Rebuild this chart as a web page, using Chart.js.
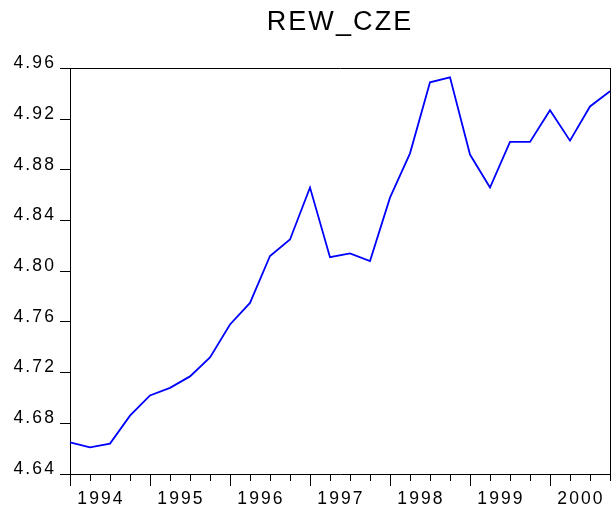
<!DOCTYPE html>
<html>
<head>
<meta charset="utf-8">
<script src="https://cdn.jsdelivr.net/npm/chart.js@4/dist/chart.umd.min.js"></script>
<style>
  body { margin: 0; background: #fff; }
  canvas { display: block; }
</style>
</head>
<body>
<canvas id="rew_chart" width="613" height="513"></canvas>
<script>
// quarterly observations, 1994Q1 .. 2000Q4
var quarters = [
  "1994Q1", "1994Q2", "1994Q3", "1994Q4",
  "1995Q1", "1995Q2", "1995Q3", "1995Q4",
  "1996Q1", "1996Q2", "1996Q3", "1996Q4",
  "1997Q1", "1997Q2", "1997Q3", "1997Q4",
  "1998Q1", "1998Q2", "1998Q3", "1998Q4",
  "1999Q1", "1999Q2", "1999Q3", "1999Q4",
  "2000Q1", "2000Q2", "2000Q3", "2000Q4"
];
var rewCze = [
  4.665, 4.661, 4.664, 4.686,
  4.702, 4.708, 4.717, 4.732,
  4.758, 4.775, 4.812, 4.825,
  4.866, 4.811, 4.814, 4.808,
  4.858, 4.893, 4.949, 4.953,
  4.892, 4.866, 4.902, 4.902,
  4.927, 4.903, 4.930, 4.942
];
var yTicks = [4.64, 4.68, 4.72, 4.76, 4.80, 4.84, 4.88, 4.92, 4.96];

var fontFamily = "Arial, 'Liberation Sans', sans-serif";

// EViews draws its text a bit spread out
var letterSpacing = {
  id: 'letterSpacing',
  beforeUpdate: function(chart) { chart.ctx.letterSpacing = '2.1px'; },
  beforeDraw: function(chart) { chart.ctx.letterSpacing = '2.1px'; }
};

var chart = new Chart("rew_chart", {
  type: 'line',
  data: {
    labels: quarters,
    datasets: [{
      label: "REW_CZE",
      data: rewCze,
      borderColor: "#0000ff",
      borderWidth: 1.8,
      pointRadius: 0,
      tension: 0,
      fill: false,
      xAxisID: 'x',
      yAxisID: 'y'
    }]
  },
  options: {
    responsive: false,
    animation: false,
    layout: { padding: { left: 0, right: 1, top: 0, bottom: 0 } },
    plugins: {
      legend: { display: false },
      tooltip: { enabled: false },
      title: {
        display: true,
        text: 'REW_CZE',
        fullSize: false,
        color: '#000',
        font: { family: fontFamily, size: 27, weight: 'normal', lineHeight: 1.2 },
        padding: { top: 6, bottom: 30 }
      }
    },
    scales: {
      x: {
        type: 'category',
        position: 'bottom',
        afterFit: function(scale) { scale.height = 39; },
        grid: {
          drawOnChartArea: false,
          tickLength: 12,
          tickColor: function(ctx) { return ctx.index % 4 === 0 ? '#000' : 'rgba(0,0,0,0)'; }
        },
        border: { color: '#000', width: 1 },
        ticks: {
          autoSkip: false,
          maxRotation: 0,
          padding: 3,
          labelOffset: 31,
          color: '#000',
          font: { family: fontFamily, size: 17.5 },
          callback: function(value, index) {
            return index % 4 === 0 ? this.getLabelForValue(value).slice(0, 4) : '';
          }
        }
      },
      xq: {
        type: 'category',
        position: { y: 4.64 },
        grid: { drawOnChartArea: false, tickLength: 7, tickColor: '#000' },
        border: { display: false },
        ticks: { display: false, autoSkip: false }
      },
      xTop: {
        type: 'category',
        position: 'top',
        grid: { drawOnChartArea: false, drawTicks: false },
        border: { color: '#000', width: 1 },
        ticks: { display: false }
      },
      y: {
        type: 'linear',
        position: 'left',
        min: 4.64,
        max: 4.96,
        afterFit: function(scale) { scale.width = 70; },
        afterBuildTicks: function(scale) {
          scale.ticks = yTicks.map(function(v) { return { value: v }; });
        },
        grid: { drawOnChartArea: false, tickLength: 10, tickColor: '#000' },
        border: { color: '#000', width: 1 },
        ticks: {
          padding: 4,
          labelOffset: -5,
          color: '#000',
          font: { family: fontFamily, size: 17.5 },
          callback: function(value) { return value.toFixed(2); }
        }
      },
      yRight: {
        type: 'linear',
        position: 'right',
        grid: { drawOnChartArea: false, drawTicks: false },
        border: { color: '#000', width: 1 },
        ticks: { display: false }
      }
    }
  },
  plugins: [letterSpacing]
});
</script>
</body>
</html>
